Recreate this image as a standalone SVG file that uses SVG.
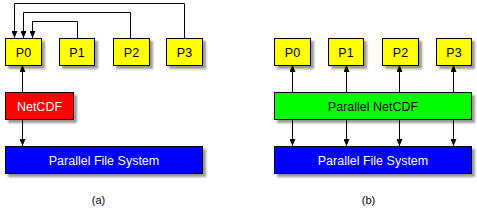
<svg xmlns="http://www.w3.org/2000/svg" width="477" height="214" viewBox="0 0 477 214">
<style>
.box{stroke:#000;stroke-width:1;filter:url(#sh)}
.t{font-family:"Liberation Sans",Arial,sans-serif;font-size:12.5px;text-anchor:middle}
.w{fill:#fff}
.c{fill:none;stroke:#000;stroke-width:1}
</style>
<defs>
<filter id="sh" x="-10%" y="-20%" width="130%" height="160%">
<feGaussianBlur in="SourceAlpha" stdDeviation="1.2"/>
<feOffset dx="2.5" dy="2.5" result="b"/>
<feFlood flood-color="#000" flood-opacity="0.4"/>
<feComposite in2="b" operator="in"/>
<feMerge><feMergeNode/><feMergeNode in="SourceGraphic"/></feMerge>
</filter>
<marker id="ah" viewBox="0 0 7 6" refX="7" refY="3" markerWidth="7" markerHeight="6" orient="auto" markerUnits="userSpaceOnUse">
<path d="M0,0 L7,3 L0,6 z" fill="#000"/>
</marker>
</defs>
<rect width="477" height="214" fill="#fff"/>
<g id="connectors">
<path class="c" d="M184.5,38 V3.5 H14.5 V38" marker-end="url(#ah)"/>
<path class="c" d="M130.5,38 V12.5 H23.5 V38" marker-end="url(#ah)"/>
<path class="c" d="M77.5,38 V21.5 H32.5 V38" marker-end="url(#ah)"/>
<path class="c" d="M22.5,92 V65" marker-end="url(#ah)"/>
<path class="c" d="M22.5,119 V146" marker-end="url(#ah)"/>
<path class="c" d="M292.5,92 V65" marker-end="url(#ah)"/>
<path class="c" d="M346.5,92 V65" marker-end="url(#ah)"/>
<path class="c" d="M399.5,92 V65" marker-end="url(#ah)"/>
<path class="c" d="M453.5,92 V65" marker-end="url(#ah)"/>
<path class="c" d="M292.5,119 V146" marker-end="url(#ah)"/>
<path class="c" d="M346.5,119 V146" marker-end="url(#ah)"/>
<path class="c" d="M399.5,119 V146" marker-end="url(#ah)"/>
<path class="c" d="M453.5,119 V146" marker-end="url(#ah)"/>
</g>
<g id="a-P0"><rect class="box" x="5.5" y="38.5" width="36" height="27" fill="#ffff00"/><text class="t" x="23.5" y="56.5">P0</text></g>
<g id="a-P1"><rect class="box" x="59.5" y="38.5" width="35" height="27" fill="#ffff00"/><text class="t" x="77" y="56.5">P1</text></g>
<g id="a-P2"><rect class="box" x="113.5" y="38.5" width="36" height="27" fill="#ffff00"/><text class="t" x="131.5" y="56.5">P2</text></g>
<g id="a-P3"><rect class="box" x="166.5" y="38.5" width="36" height="27" fill="#ffff00"/><text class="t" x="184.5" y="56.5">P3</text></g>
<g id="a-netcdf"><rect class="box" x="5.5" y="92.5" width="68" height="27" fill="#ff0000"/><text class="t w" x="39.5" y="110.5">NetCDF</text></g>
<g id="a-pfs"><rect class="box" x="5.5" y="146.5" width="197" height="27" fill="#0000ff"/><text class="t w" x="104" y="164.5">Parallel File System</text></g>
<g id="b-P0"><rect class="box" x="274.5" y="38.5" width="36" height="27" fill="#ffff00"/><text class="t" x="292.5" y="56.5">P0</text></g>
<g id="b-P1"><rect class="box" x="328.5" y="38.5" width="35" height="27" fill="#ffff00"/><text class="t" x="346" y="56.5">P1</text></g>
<g id="b-P2"><rect class="box" x="382.5" y="38.5" width="36" height="27" fill="#ffff00"/><text class="t" x="400.5" y="56.5">P2</text></g>
<g id="b-P3"><rect class="box" x="436.5" y="38.5" width="35" height="27" fill="#ffff00"/><text class="t" x="454" y="56.5">P3</text></g>
<g id="b-pnetcdf"><rect class="box" x="274.5" y="92.5" width="197" height="27" fill="#00ff00"/><text class="t" x="373" y="110.5">Parallel NetCDF</text></g>
<g id="b-pfs"><rect class="box" x="274.5" y="146.5" width="197" height="27" fill="#0000ff"/><text class="t w" x="373" y="164.5">Parallel File System</text></g>
<text class="t" x="98.5" y="204" style="font-size:11px">(a)</text>
<text class="t" x="368.5" y="204" style="font-size:11px">(b)</text>
</svg>
